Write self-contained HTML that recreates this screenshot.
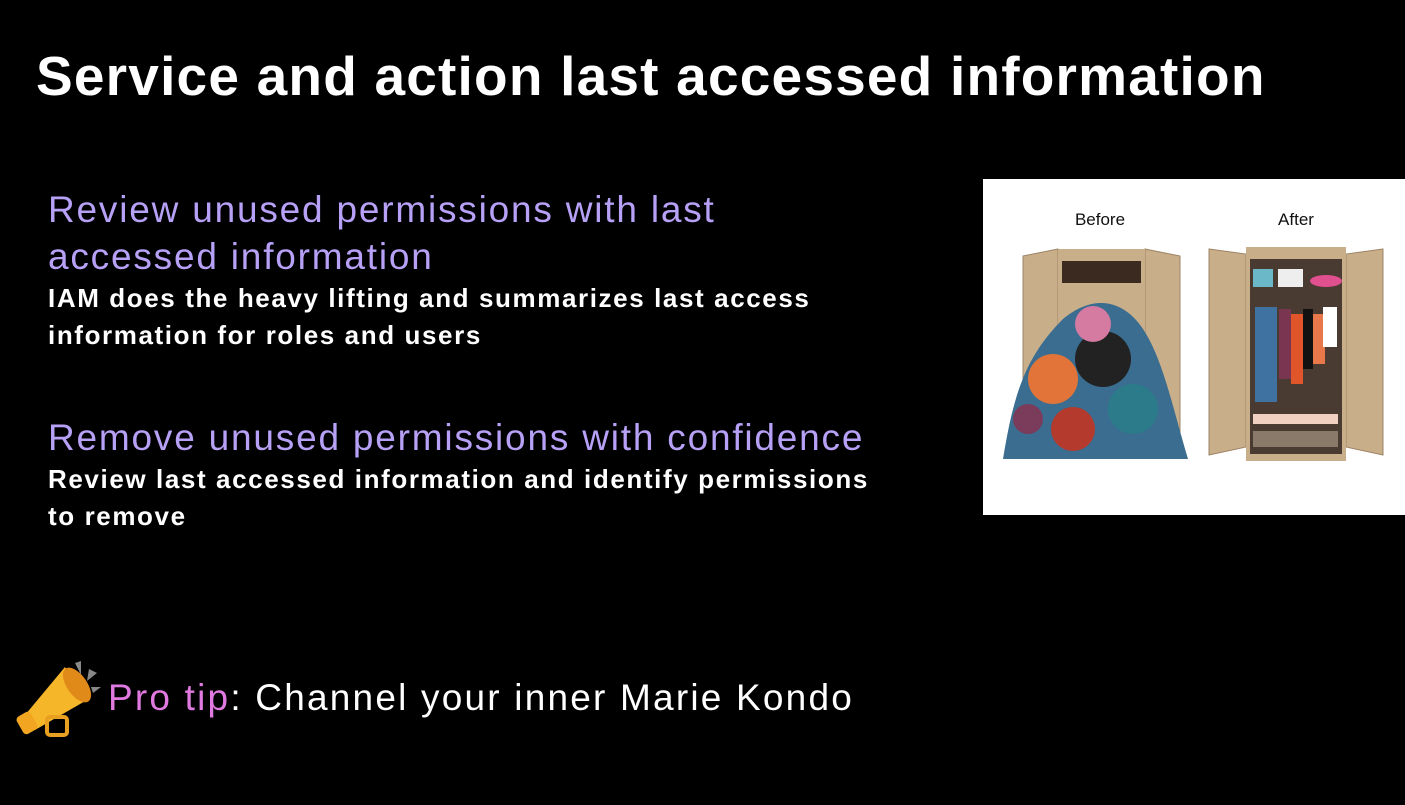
<!DOCTYPE html>
<html><head><meta charset="utf-8"><style>
html,body{margin:0;padding:0;background:#000;width:1405px;height:805px;overflow:hidden;font-family:"Liberation Sans",sans-serif;}
.abs{position:absolute;white-space:nowrap;}
.title{left:36px;top:44px;font-size:55px;font-weight:bold;color:#fff;letter-spacing:1.2px;}
.h{color:#b7a1f7;font-size:37px;left:48px;letter-spacing:1.8px;}
.b{color:#fff;font-size:26px;font-weight:bold;left:48px;line-height:37px;letter-spacing:1.6px;}
</style></head><body>
<div class="abs title">Service and action last accessed information</div>
<div class="abs h" style="top:186px;line-height:47px">Review unused permissions with last<br>accessed information</div>
<div class="abs b" style="top:280px">IAM does the heavy lifting and summarizes last access<br>information for roles and users</div>
<div class="abs h" style="top:416px;line-height:44px">Remove unused permissions with confidence</div>
<div class="abs b" style="top:461px">Review last accessed information and identify permissions<br>to remove</div>
<svg class="abs" style="left:983px;top:179px" width="422" height="336">
<rect width="422" height="336" fill="#fff"/>
<text x="117" y="46" font-size="17" text-anchor="middle" font-family="Liberation Sans" fill="#111">Before</text>
<text x="313" y="46" font-size="17" text-anchor="middle" font-family="Liberation Sans" fill="#111">After</text>
<g>
<polygon points="40,77 75,70 75,270 40,262" fill="#c9ae8a" stroke="#9d8466"/>
<polygon points="197,77 162,70 162,270 197,262" fill="#c9ae8a" stroke="#9d8466"/>
<rect x="75" y="70" width="87" height="200" fill="#c9ae8a"/>
<rect x="79" y="82" width="79" height="22" fill="#3b2a20"/>
<path d="M20,280 C30,220 40,180 80,140 C110,115 140,120 160,150 C180,180 190,230 205,280 Z" fill="#3a6d8f"/>
<circle cx="70" cy="200" r="25" fill="#e2743a"/><circle cx="120" cy="180" r="28" fill="#222"/>
<circle cx="150" cy="230" r="25" fill="#2b7b8b"/><circle cx="90" cy="250" r="22" fill="#b33a2d"/>
<circle cx="110" cy="145" r="18" fill="#d57aa0"/><circle cx="45" cy="240" r="15" fill="#7b3b5b"/>
</g>
<g>
<polygon points="226,70 263,75 263,268 226,276" fill="#c9ae8a" stroke="#9d8466"/>
<polygon points="400,70 363,75 363,268 400,276" fill="#c9ae8a" stroke="#9d8466"/>
<rect x="263" y="68" width="100" height="214" fill="#c9ae8a"/>
<rect x="267" y="80" width="92" height="195" fill="#4a3b32"/>
<rect x="270" y="90" width="20" height="18" fill="#6ab8c8"/><rect x="295" y="90" width="25" height="18" fill="#eee"/><ellipse cx="343" cy="102" rx="16" ry="6" fill="#e0508f"/>
<rect x="272" y="128" width="22" height="95" fill="#3f72a0"/><rect x="296" y="130" width="12" height="70" fill="#7a3550"/>
<rect x="308" y="135" width="12" height="70" fill="#e0552a"/><rect x="320" y="130" width="10" height="60" fill="#111"/>
<rect x="330" y="135" width="12" height="50" fill="#e8784a"/><rect x="340" y="128" width="14" height="40" fill="#fff"/>
<rect x="270" y="235" width="85" height="10" fill="#f0d0c0"/>
<rect x="270" y="252" width="85" height="16" fill="#8a7a6a"/>
</g>
</svg>
<svg class="abs" style="left:15px;top:655px" width="90" height="90">
<polygon points="10,60 50,12 72,45 20,75" fill="#f5b62a"/>
<ellipse cx="62" cy="30" rx="10" ry="20" transform="rotate(-35 62 30)" fill="#e08a1a"/>
<rect x="4" y="58" width="16" height="20" rx="4" fill="#f2a520" transform="rotate(-30 12 68)"/>
<rect x="32" y="62" width="20" height="18" rx="3" fill="none" stroke="#e8a020" stroke-width="4"/>
<polygon points="60,8 66,6 66,20" fill="#888"/><polygon points="74,14 82,18 72,26" fill="#888"/><polygon points="76,32 86,32 78,38" fill="#888"/>
</svg>
<div class="abs" style="left:108px;top:677px;font-size:37px;color:#fff;letter-spacing:2.2px"><span style="color:#e07ae0">Pro tip</span>: Channel your inner Marie Kondo</div>
</body></html>
